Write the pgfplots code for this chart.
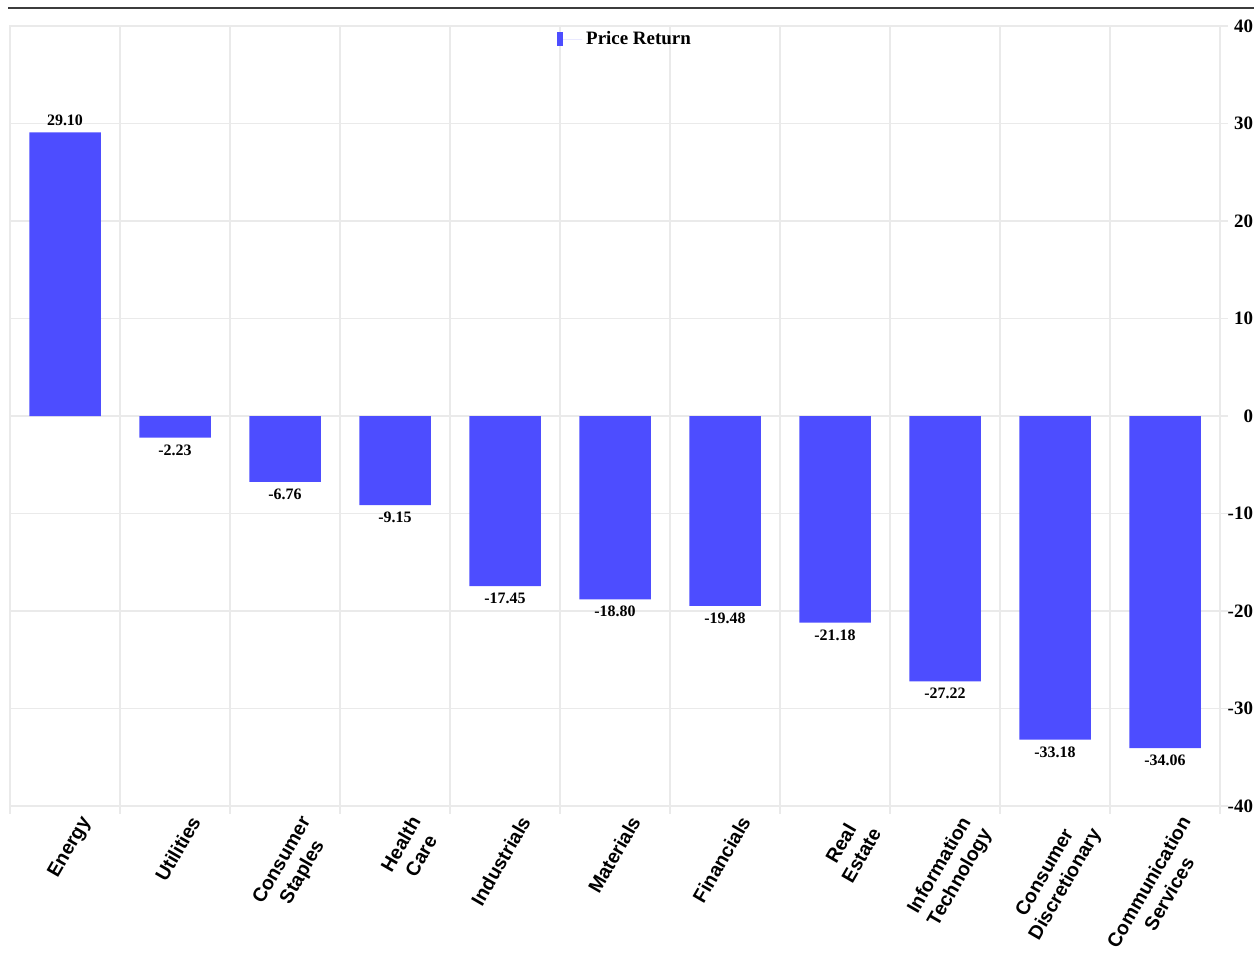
\documentclass[border=0pt]{standalone}
\usepackage{fontspec}
\setmainfont{Liberation Serif}
\newfontfamily\labelsans{Liberation Sans}
\usepackage{pgfplots}
\pgfplotsset{compat=1.18}

\definecolor{barblue}{RGB}{77,77,255}
\definecolor{gridgray}{RGB}{234,234,234}
\definecolor{ruleline}{RGB}{60,60,60}

\begin{document}
\begin{tikzpicture}
\begin{axis}[
  at={(0,0)}, anchor=south west,
  scale only axis,
  width=605bp, height=390bp,
  xmin=-0.5, xmax=10.5,
  ymin=-40, ymax=40,
  ytick={-40,-30,...,40},
  xtick={0,...,10},
  xticklabels={Energy, Utilities, Consumer\\Staples, Health\\Care, Industrials,
    Materials, Financials, Real\\Estate, Information\\Technology,
    Consumer\\Discretionary, Communication\\Services},
  minor xtick={-0.5,0.5,...,10.5},
  xminorgrids=true, ymajorgrids=true,
  grid style={gridgray, line width=0.6bp},
  minor grid style={gridgray, line width=0.6bp},
  axis line style={gridgray, line width=0.6bp},
  major x tick style={draw=none},
  minor x tick style={gridgray, line width=0.6bp},
  ytick style={gridgray, line width=0.6bp},
  tick align=outside,
  major tick length=4bp, minor tick length=4bp,
  xtick pos=bottom, ytick pos=right,
  yticklabel pos=right,
  /pgf/number format/assume math mode=true,
  yticklabel style={font=\bfseries\fontsize{9.5}{11}\selectfont, anchor=east, xshift=16bp},
  xticklabel style={font=\labelsans\bfseries\fontsize{9.8}{11.8}\selectfont,
    align=center, inner sep=0pt, xshift=7bp, yshift=0bp, rotate=60, anchor=north east},
  ybar, bar width=0.65,
  nodes near coords,
  nodes near coords style={font=\bfseries\fontsize{8}{9}\selectfont,
    /pgf/number format/.cd, fixed, fixed zerofill, precision=2},
  legend style={at={(0.5,1)}, anchor=north, draw=none, fill=none,
    font=\bfseries\fontsize{9.5}{11}\selectfont, xshift=5.5bp, yshift=1.5bp},
  legend image code/.code={%
    \path (0bp,0bp) -- (12.5bp,0bp);
    \fill[barblue] (0bp,-3.5bp) rectangle (3bp,3.5bp);},
]
\addplot[fill=barblue, draw=none] coordinates {
  (0,29.10) (1,-2.23) (2,-6.76) (3,-9.15) (4,-17.45) (5,-18.80)
  (6,-19.48) (7,-21.18) (8,-27.22) (9,-33.18) (10,-34.06)
};
\addlegendentry{Price Return}
\end{axis}
\draw[ruleline, line width=1bp] (-1bp,399bp) -- (622bp,399bp);
\pgfresetboundingbox
\path[use as bounding box] (-5bp,-75.5bp) rectangle (622bp,403bp);
\end{tikzpicture}
\end{document}
